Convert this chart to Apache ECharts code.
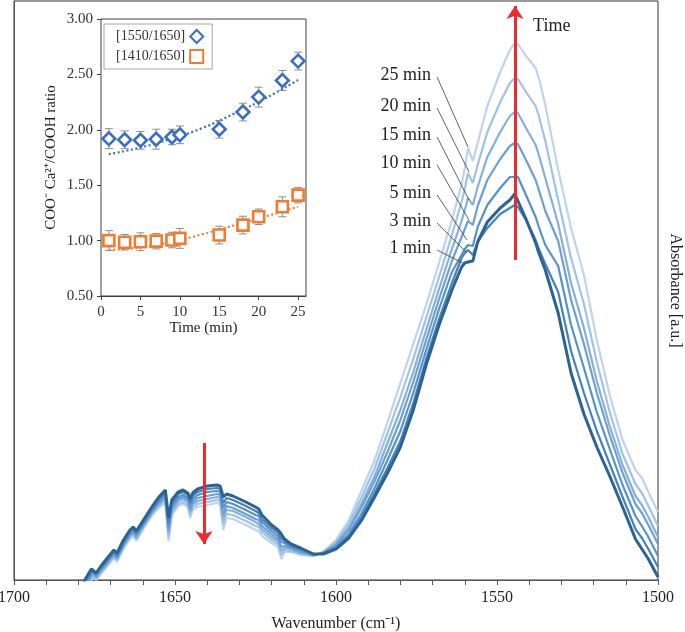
<!DOCTYPE html>
<html><head><meta charset="utf-8">
<script src="https://cdn.jsdelivr.net/npm/echarts@6/dist/echarts.min.js"></script>
<style>html,body{margin:0;padding:0;background:#fff}#c{width:685px;height:632px}</style>
</head><body><div id="c"></div>
<script>
// ---- main spectra (wavenumber in cm-1, absorbance in arbitrary units) ----
const wavenumbers = [1682,1678,1676,1675.5,1674.5,1673,1670,1669,1668,1666,1664,1663,1662,1660,1657,1655,1653,1652,1651,1649,1647.5,1646,1645.3,1644.5,1643,1640,1637,1636,1635,1634,1632,1628,1625,1624,1623,1620,1618,1617,1616,1614,1611,1607,1604,1600,1596,1592,1588,1584,1580,1576,1572,1568,1564,1561,1560,1559,1557.5,1556,1553,1549,1546,1544.5,1543.5,1541,1538,1537,1535,1531,1527,1523,1519,1515,1511,1507,1505,1503,1500];
const abs1min = [-30,0,11,13,7,14,26,30,27,40,50,53,49,59,74,83,90,62,80,88,90,87,81,87,91,94,95,94,83,86,84,78,73,71,65,55,50,46,41,36,32,26,26,31,42,60,83,107,133,170,215,255,290,313,317,318,319,338,358,372,380,386,379,361,337,327,310,267,207,166,133,104,73,41,31,21,3];
const abs3min = [-32,-2,9,11,6,13,25,29,25,38,48,51,47,57,72,81,88,58,77,86,88,85,78,84,88,91,92,91,77,82,80,74,69,67,61,52,47,42,39,35,31,26,26,32,44,63,87,112,139,177,221,261,297,322,327,330,325,338,352,366,372,375,373,360,340,331,316,288,229,187,149,116,83,51,42,31,13];
const abs5min = [-33,-4,7,10,5,11,23,27,24,37,47,50,46,56,71,79,86,54,75,83,85,82,75,81,85,88,89,88,72,78,76,70,65,64,58,49,44,38,37,33,30,25,27,33,46,67,92,120,149,187,230,271,308,325,331,335,334,353,375,392,403,403,403,385,363,353,335,314,255,212,168,131,95,64,54,43,24];
const abs10min = [-35,-6,5,8,4,10,22,26,22,35,45,48,44,54,69,77,83,50,72,81,83,80,71,78,82,84,86,85,66,74,72,66,61,60,54,46,41,33,34,32,28,25,27,35,50,73,99,128,160,198,240,281,319,343,351,359,355,374,400,421,434,437,436,420,400,390,369,339,280,236,187,145,107,76,67,55,36];
const abs15min = [-37,-8,3,6,2,9,21,25,21,34,44,47,42,53,68,76,81,47,69,79,81,78,68,76,79,81,83,82,61,70,69,63,58,56,51,43,39,29,32,31,27,25,27,36,52,77,104,137,170,208,250,291,331,359,370,382,375,393,423,448,464,468,467,452,435,425,402,356,297,252,199,154,115,84,75,63,43];
const abs20min = [-38,-10,1,5,1,7,19,23,20,33,43,46,41,52,67,74,79,43,67,76,78,75,65,73,76,78,80,79,56,66,65,59,54,53,48,40,36,25,30,29,26,24,28,38,56,83,112,147,183,221,262,303,345,378,391,407,397,415,448,478,497,502,501,488,474,464,439,380,322,276,218,168,126,96,87,74,54];
const abs25min = [-40,-12,-1,3,0,6,18,22,18,31,41,44,39,50,65,72,77,39,64,74,76,73,62,70,73,75,77,76,50,62,61,55,50,49,44,37,33,21,28,28,25,24,28,40,60,90,120,158,197,236,275,317,360,396,412,432,419,437,474,508,530,537,536,524,512,502,475,410,352,305,240,185,140,110,102,88,68];
const spectraLabels = ['1 min','3 min','5 min','10 min','15 min','20 min','25 min'];
const spectraColors = ['#2b6395','#4682bd','#5792ca','#6c9fd2','#85b0db','#a0c2e4','#bed4ed'];
const xTickLabels = [1700,1650,1600,1550,1500];

// ---- inset: ratio vs time ----
const timeMin = [1,3,5,7,9,10,15,18,20,23,25];
const ratio1550 = [1.92,1.91,1.905,1.915,1.935,1.955,2.005,2.16,2.295,2.445,2.62];
const err1550 = [0.09,0.08,0.08,0.09,0.07,0.08,0.08,0.08,0.09,0.09,0.08];
const ratio1410 = [1.00,0.985,0.99,0.995,1.005,1.02,1.05,1.14,1.215,1.305,1.41];
const err1410 = [0.09,0.07,0.08,0.07,0.07,0.09,0.08,0.08,0.07,0.09,0.07];
const trendTime = [1,5,9,13,17,21,25];
const trend1550 = [1.78,1.84,1.92,2.02,2.15,2.29,2.45];
const trend1410 = [0.915,0.94,0.99,1.06,1.14,1.22,1.306];
const insetYTicks = ['0.50','1.00','1.50','2.00','2.50','3.00'];

// ---- annotations (data coordinates of the main plot) ----
const leaderStart = [[1568.6,330],[1568.6,357],[1568.6,385],[1568.6,415],[1568.6,443],[1568.6,472],[1568.6,503]];
const leaderEnd   = [[1560.6,317],[1559.3,327],[1559.3,340],[1558.7,360],[1558.7,380],[1558.7,408],[1559.0,433]];
const timeArrow = [[1544.4,320],[1544.4,574]];
const bandArrow = [[1641,137],[1641,36]];
const timeTextPos = [1538.8,554];

const FONT = "'Liberation Serif','Times New Roman',serif";
const chart = echarts.init(document.getElementById('c'), null, {renderer:'canvas'});
const spectra = [abs1min,abs3min,abs5min,abs10min,abs15min,abs20min,abs25min];

const series = [];
for (let k = spectra.length - 1; k >= 0; k--) {
  series.push({
    name: spectraLabels[k], type:'line', xAxisIndex:0, yAxisIndex:0,
    data: wavenumbers.map((w,i)=>[w, spectra[k][i]]),
    showSymbol:false, symbol:'none', clip:true,
    lineStyle:{color:spectraColors[k], width: k===0 ? 3 : 2.2},
    z: 2, silent:true
  });
}
series.push({
  type:'line', xAxisIndex:0, yAxisIndex:0, data:[], z:3, silent:true,
  markLine:{silent:true, animation:false, symbol:['none','none'], label:{show:false},
    lineStyle:{color:'#3a3a3a', width:0.8, type:'solid'},
    data: leaderStart.map((s,i)=>[{coord:s},{coord:leaderEnd[i]}])}
});
series.push({
  type:'line', xAxisIndex:0, yAxisIndex:0, data:[], z:10, silent:true,
  markLine:{silent:true, animation:false, symbol:['none','arrow'], symbolSize:13, label:{show:false},
    lineStyle:{color:'#ee2a2e', width:3, type:'solid'},
    data:[[{coord:timeArrow[0]},{coord:timeArrow[1]}],[{coord:bandArrow[0]},{coord:bandArrow[1]}]]}
});

function errRender(params, api){
  const x = api.value(0), y = api.value(1), e = api.value(2);
  const t = api.coord([x, y+e]), b = api.coord([x, y-e]);
  const c = 4, st = {stroke:'#8d8d8d', lineWidth:1};
  return {type:'group', children:[
    {type:'line', shape:{x1:t[0],y1:t[1],x2:b[0],y2:b[1]}, style:st},
    {type:'line', shape:{x1:t[0]-c,y1:t[1],x2:t[0]+c,y2:t[1]}, style:st},
    {type:'line', shape:{x1:b[0]-c,y1:b[1],x2:b[0]+c,y2:b[1]}, style:st}
  ]};
}
const BLUE = '#3a6fbf', ORANGE = '#ee7d31';
series.push(
  {type:'custom', xAxisIndex:1, yAxisIndex:2, renderItem:errRender, z:4, silent:true,
   data: timeMin.map((t,i)=>[t, ratio1550[i], err1550[i]])},
  {type:'custom', xAxisIndex:1, yAxisIndex:2, renderItem:errRender, z:4, silent:true,
   data: timeMin.map((t,i)=>[t, ratio1410[i], err1410[i]])},
  {type:'line', xAxisIndex:1, yAxisIndex:2, data: trendTime.map((t,i)=>[t,trend1550[i]]), smooth:true,
   showSymbol:false, lineStyle:{color:BLUE, width:2.2, type:[2,2.5]}, z:4, silent:true},
  {type:'line', xAxisIndex:1, yAxisIndex:2, data: trendTime.map((t,i)=>[t,trend1410[i]]), smooth:true,
   showSymbol:false, lineStyle:{color:ORANGE, width:2.2, type:[2,2.5]}, z:4, silent:true},
  {name:'[1550/1650]', type:'scatter', xAxisIndex:1, yAxisIndex:2, symbol:'rect', symbolRotate:45, symbolSize:9,
   itemStyle:{color:'#fff', borderColor:BLUE, borderWidth:2.6, opacity:1},
   data: timeMin.map((t,i)=>[t, ratio1550[i]]), z:5},
  {name:'[1410/1650]', type:'scatter', xAxisIndex:1, yAxisIndex:2, symbol:'rect', symbolSize:11,
   itemStyle:{color:'#fff', borderColor:ORANGE, borderWidth:2.6, opacity:1},
   data: timeMin.map((t,i)=>[t, ratio1410[i]]), z:5}
);

const option = {
  animation:false,
  backgroundColor:'#fff',
  textStyle:{fontFamily:FONT},
  grid:[
    {left:14, right:27, top:1, bottom:52, show:true, borderColor:'#333', borderWidth:1, backgroundColor:'transparent', outerBoundsMode:'none', containLabel:false},
    {left:101, top:19, width:205, height:277, show:true, borderColor:'#404040', borderWidth:1, backgroundColor:'#fff', z:3, outerBoundsMode:'none', containLabel:false}
  ],
  xAxis:[
    {type:'value', gridIndex:0, min:1500, max:1700, interval:10, inverse:true,
     name:'Wavenumber (cm\u207B\u00B9)', nameLocation:'middle', nameGap:36,
     nameTextStyle:{fontFamily:FONT, fontSize:16, color:'#222'},
     axisLine:{lineStyle:{color:'#555', width:1}},
     axisTick:{length:5, lineStyle:{color:'#555'}},
     axisLabel:{margin:10, fontFamily:FONT, fontSize:16, color:'#222',
       formatter:v=> xTickLabels.indexOf(v) >= 0 ? String(v) : ''},
     splitLine:{show:false}},
    {type:'value', gridIndex:1, min:0, max:26, interval:5,
     name:'Time (min)', nameLocation:'middle', nameGap:24,
     nameTextStyle:{fontFamily:FONT, fontSize:15, color:'#222'},
     axisLine:{lineStyle:{color:'#404040'}},
     axisTick:{length:4, lineStyle:{color:'#404040'}},
     axisLabel:{margin:9, fontFamily:FONT, fontSize:15, color:'#333', showMaxLabel:false,
       formatter:v=> (v % 5 === 0) ? String(v) : ''},
     splitLine:{show:false}}
  ],
  yAxis:[
    {type:'value', gridIndex:0, min:0, max:579, position:'left',
     axisLine:{show:true, lineStyle:{color:'#555'}}, axisTick:{show:false}, axisLabel:{show:false}, splitLine:{show:false}},
    {type:'value', gridIndex:0, min:0, max:579, position:'right',
     name:'Absorbance [a.u.]', nameLocation:'middle', nameRotate:-90, nameGap:9,
     nameTextStyle:{fontFamily:FONT, fontSize:16, color:'#222'},
     axisLine:{show:false}, axisTick:{show:false}, axisLabel:{show:false}, splitLine:{show:false}},
    {type:'value', gridIndex:1, min:0.5, max:3.0, interval:0.5,
     name:'COO\u207B Ca\u00B2\u207A/COOH ratio', nameLocation:'middle', nameGap:42,
     nameTextStyle:{fontFamily:FONT, fontSize:15, color:'#222'},
     axisLine:{show:true, lineStyle:{color:'#404040'}},
     axisTick:{show:true, length:4, lineStyle:{color:'#404040'}},
     axisLabel:{margin:8, fontFamily:FONT, fontSize:15, color:'#333',
       formatter:v=> insetYTicks.indexOf(v.toFixed(2)) >= 0 ? v.toFixed(2) : ''},
     splitLine:{show:false}}
  ],
  legend:{
    left:104, top:24, orient:'vertical', align:'right',
    data:[{name:'[1550/1650]', icon:'diamond'},{name:'[1410/1650]', icon:'rect'}],
    itemWidth:13, itemHeight:13, itemGap:5,
    padding:[5,8,5,12], borderColor:'#a6a6a6', borderWidth:1, backgroundColor:'#fff',
    textStyle:{fontFamily:FONT, fontSize:14, color:'#333'},
    selectedMode:false
  },
  series: series
};
chart.setOption(option);

const gfx = [];
spectraLabels.forEach((lab,i)=>{
  const p = chart.convertToPixel({xAxisIndex:0, yAxisIndex:0}, leaderStart[i]);
  gfx.push({type:'text', x:p[0]-6, y:p[1]-2, z:20,
    style:{text:lab, fill:'#222', font:"18px 'Liberation Serif','Times New Roman',serif", textAlign:'right', textVerticalAlign:'middle'}});
});
const tp = chart.convertToPixel({xAxisIndex:0, yAxisIndex:0}, timeTextPos);
gfx.push({type:'text', x:tp[0], y:tp[1], z:20,
  style:{text:'Time', fill:'#222', font:"18px 'Liberation Serif','Times New Roman',serif", textAlign:'left', textVerticalAlign:'middle'}});
chart.setOption({graphic: gfx});
</script>
</body></html>
